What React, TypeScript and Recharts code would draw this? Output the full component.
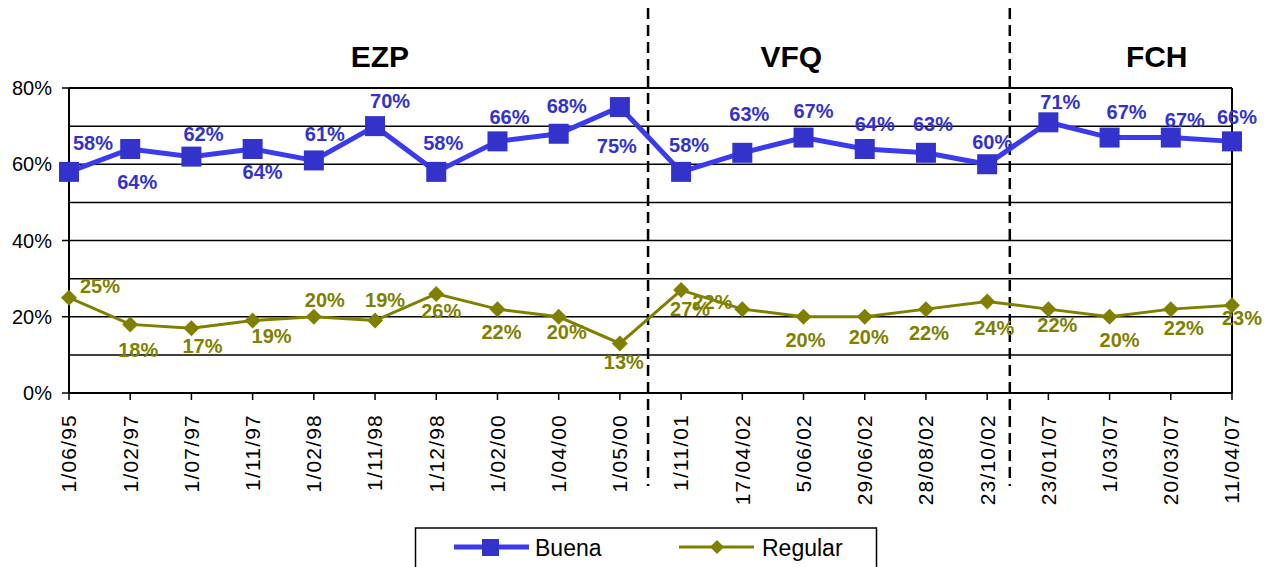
import React from 'react';
import { LineChart, Line, XAxis, YAxis, CartesianGrid, ReferenceLine, LabelList } from 'recharts';

const categories = ['1/06/95', '1/02/97', '1/07/97', '1/11/97', '1/02/98', '1/11/98', '1/12/98', '1/02/00', '1/04/00', '1/05/00', '1/11/01', '17/04/02', '5/06/02', '29/06/02', '28/08/02', '23/10/02', '23/01/07', '1/03/07', '20/03/07', '11/04/07'];
const buena = [58, 64, 62, 64, 61, 70, 58, 66, 68, 75, 58, 63, 67, 64, 63, 60, 71, 67, 67, 66];
const regular = [25, 18, 17, 19, 20, 19, 26, 22, 20, 13, 27, 22, 20, 20, 22, 24, 22, 20, 22, 23];
const yTicks = [0, 20, 40, 60, 80];
const minorGrid = [10, 30, 50, 70];
const groupNames = ['EZP', 'VFQ', 'FCH'];
const groupCenters = [5.08, 11.8, 17.77];
const separators = [9.46, 15.37];

// label offsets (dx, dy) of each data label's centre from its point
const buenaLabelOffsets = [[24, -29], [7, 33], [12, -23], [10, 23], [11, -26], [15, -25], [7, -29], [12, -24], [8, -28], [-3, 39], [8, -27], [7, -39], [10, -27], [10, -25], [7, -29], [5, -22], [12, -20], [17, -26], [14, -18], [5, -24]];
const regularLabelOffsets = [[31, -12], [8, 26], [11, 18], [19, 15], [11, -17], [10, -21], [5, 17], [4, 23], [8, 15], [4, 19], [9, 19], [-30, -7], [2, 23], [4, 20], [3, 24], [7, 26], [9, 16], [10, 23], [13, 19], [10, 13]];

const data = categories.map((c, i) => ({ i, label: c, buena: buena[i], regular: regular[i] }));

const FONT = '"Liberation Sans", Arial, sans-serif';
const BLUE = '#3333CC';
const BLUE_LINE = '#3B3BEE';
const OLIVE = '#808000';

const XTick = (props: any) => {
  const { x, y, payload } = props;
  return (
    <text x={x} y={y + 12} dy="0.35em" transform={`rotate(-90, ${x}, ${y + 12})`} textAnchor="end" fontSize={21} letterSpacing={1.2} fontFamily={FONT} fill="#000">
      {categories[payload.value]}
    </text>
  );
};

const makeLabel = (offsets: number[][], color: string) => (p: any) => {
  const x = p.x ?? p.viewBox?.x;
  const y = p.y ?? p.viewBox?.y;
  const off = offsets[p.index] || [0, 0];
  return (
    <text key={`l${p.index}`} x={x + off[0]} y={y + off[1] + 7} textAnchor="middle" fontSize={20} fontWeight="bold" fontFamily={FONT} fill={color}>
      {p.value}%
    </text>
  );
};

const SquareDot = (p: any) => (
  <rect key={`s${p.index}`} x={p.cx - 10} y={p.cy - 10} width={20} height={20} fill={BLUE} />
);
const DiamondDot = (p: any) => (
  <polygon key={`d${p.index}`} points={`${p.cx},${p.cy - 8} ${p.cx + 8},${p.cy} ${p.cx},${p.cy + 8} ${p.cx - 8},${p.cy}`} fill={OLIVE} />
);

export default function App() {
  return (
    <div style={{ position: 'absolute', left: 0, top: 0, width: 1276, height: 567, overflow: 'hidden', background: '#fff' }}>
      <LineChart width={1276} height={567} data={data} margin={{ top: 88, right: 44, left: 0, bottom: 74 }}>
        <CartesianGrid vertical={false} stroke="#000" strokeWidth={1.5} />
        {minorGrid.map((v) => (
          <ReferenceLine key={`g${v}`} y={v} stroke="#000" strokeWidth={1.5} />
        ))}
        <ReferenceLine y={80} stroke="#000" strokeWidth={2} />
        <ReferenceLine x={19} stroke="#000" strokeWidth={2} />
        {groupNames.map((n, k) => (
          <ReferenceLine
            key={n}
            x={groupCenters[k]}
            stroke="none"
            label={{ value: n, position: 'top', offset: 21, fontSize: 30, fontWeight: 'bold', fontFamily: FONT, fill: '#000' }}
          />
        ))}
        {separators.map((s) => (
          <ReferenceLine
            key={`sep${s}`}
            x={s}
            shape={(p: any) => (
              <line x1={p.x1} x2={p.x2} y1={8} y2={486} stroke="#000" strokeWidth={2.5} strokeDasharray="11 6" />
            )}
          />
        ))}
        <XAxis
          type="number"
          dataKey="i"
          domain={[0, 19]}
          ticks={categories.map((_, i) => i)}
          interval={0}
          height={100}
          tickSize={7}
          tick={<XTick />}
          axisLine={{ stroke: '#000', strokeWidth: 2 }}
          tickLine={{ stroke: '#000', strokeWidth: 1.5 }}
        />
        <YAxis
          width={69}
          domain={[0, 80]}
          ticks={yTicks}
          interval={0}
          tickFormatter={(v: number) => `${v}%`}
          tickSize={7}
          tickMargin={10}
          tick={{ fontSize: 20, fill: '#000', fontFamily: FONT }}
          axisLine={{ stroke: '#000', strokeWidth: 2 }}
          tickLine={{ stroke: '#000', strokeWidth: 1.5 }}
        />
        <Line type="linear" dataKey="regular" stroke={OLIVE} strokeWidth={3} dot={DiamondDot} activeDot={false} isAnimationActive={false}>
          <LabelList dataKey="regular" content={makeLabel(regularLabelOffsets, OLIVE)} />
        </Line>
        <Line type="linear" dataKey="buena" stroke={BLUE_LINE} strokeWidth={5} dot={SquareDot} activeDot={false} isAnimationActive={false}>
          <LabelList dataKey="buena" content={makeLabel(buenaLabelOffsets, BLUE)} />
        </Line>
      </LineChart>
      <svg width={1276} height={567} style={{ position: 'absolute', left: 0, top: 0, pointerEvents: 'none' }}>
        <rect x={415.5} y={528} width={461} height={60} fill="#fff" stroke="#000" strokeWidth={1.5} />
        <line x1={454} x2={529} y1={547} y2={547} stroke={BLUE_LINE} strokeWidth={5} />
        <rect x={482} y={539} width={17} height={17} fill={BLUE} />
        <text x={535} y={556} fontSize={23} fontFamily={FONT} fill="#000">Buena</text>
        <line x1={679} x2={754} y1={547} y2={547} stroke={OLIVE} strokeWidth={3} />
        <polygon points="717,540 724,547 717,554 710,547" fill={OLIVE} />
        <text x={762} y={556} fontSize={23} fontFamily={FONT} fill="#000">Regular</text>
      </svg>
    </div>
  );
}
